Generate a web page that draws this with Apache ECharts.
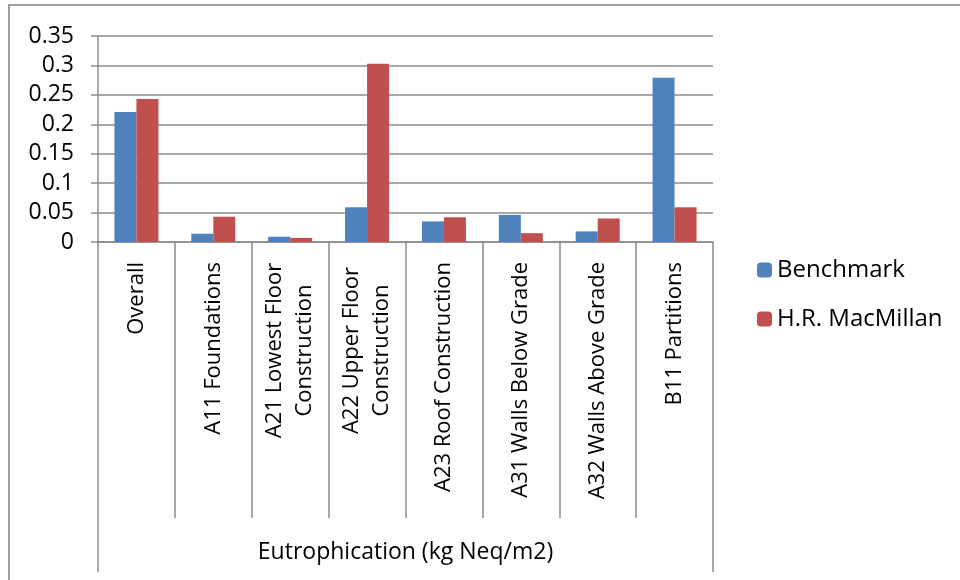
<!DOCTYPE html>
<html>
<head>
<meta charset="utf-8">
<script src="https://cdn.jsdelivr.net/npm/echarts@6/dist/echarts.min.js"></script>
<style>
  html, body { margin: 0; padding: 0; background: #fff; }
  #chart { width: 960px; height: 580px; }
</style>
</head>
<body>
<div id="chart"></div>
<script>
const categories = [
  'Overall',
  'A11 Foundations',
  'A21 Lowest Floor\nConstruction',
  'A22 Upper Floor\nConstruction',
  'A23 Roof Construction',
  'A31 Walls Below Grade',
  'A32 Walls Above Grade',
  'B11 Partitions'
]
const benchmark = [0.221, 0.014, 0.009, 0.059, 0.035, 0.046, 0.018, 0.279]
const macmillan = [0.243, 0.043, 0.007, 0.303, 0.042, 0.015, 0.040, 0.059]
const groupLabel = ['Eutrophication (kg Neq/m2)']

const FONT = '"Open Sans", "Liberation Sans", sans-serif'
const GREY = '#8c8c8c'
const BLUE = '#4f81bd'
const RED = '#c0504d'
const INK = '#000'
const CAT_SIZE = 22

// two-line labels: every line gets the width of the longest one, centred
const ctx = document.createElement('canvas').getContext('2d')
ctx.font = CAT_SIZE + 'px "Open Sans"'
const multiW = Math.ceil(Math.max(...categories.filter(c => c.includes('\n'))
  .flatMap(c => c.split('\n')).map(l => ctx.measureText(l).width))) + 1

const chart = echarts.init(document.getElementById('chart'), null, { renderer: 'canvas' })

chart.setOption({
  animation: false,
  textStyle: { fontFamily: FONT, color: INK },
  graphic: [{
    type: 'rect', silent: true, z: -1,
    shape: { x: 9, y: 5, width: 1000, height: 1000 },
    style: { fill: 'none', stroke: '#a0a0a0', lineWidth: 2 }
  }],
  grid: { left: 98, right: 247, top: 36, bottom: 338 },
  legend: {
    orient: 'vertical', left: 752, top: 253,
    itemWidth: 15, itemHeight: 15, itemGap: 25,
    textStyle: { fontSize: 24, color: INK, fontFamily: FONT },
    data: ['Benchmark', 'H.R. MacMillan']
  },
  xAxis: [{
    type: 'category', data: categories, position: 'bottom',
    axisLine: { lineStyle: { color: GREY, width: 1.5 } },
    axisTick: { show: true, interval: 0, length: 276, lineStyle: { color: GREY, width: 1.5 } },
    axisLabel: {
      interval: 0, rotate: 90, margin: 20, fontSize: CAT_SIZE, color: INK, fontFamily: FONT,
      formatter: v => {
        const lines = v.split('\n')
        return lines.length === 1 ? v : lines.map(l => '{c|' + l + '}').join('\n')
      },
      rich: { c: { fontSize: CAT_SIZE, fontFamily: FONT, color: INK, align: 'center', width: multiW, lineHeight: 30 } }
    }
  }, {
    type: 'category', data: groupLabel, position: 'bottom',
    axisLine: { show: false },
    axisTick: { show: true, interval: 0, length: 330, lineStyle: { color: GREY, width: 1.5 } },
    axisLabel: { margin: 299, fontSize: 23, color: INK, fontFamily: FONT }
  }],
  yAxis: {
    type: 'value', min: 0, max: 0.35, interval: 0.05,
    axisLine: { show: true, lineStyle: { color: GREY, width: 1.5 } },
    axisTick: { show: true, length: 7, lineStyle: { color: GREY, width: 1.5 } },
    splitLine: { lineStyle: { color: GREY, width: 1.5 } },
    axisLabel: { fontSize: 23, margin: 24, color: INK, fontFamily: FONT }
  },
  series: [{
    name: 'Benchmark', type: 'bar', xAxisIndex: 0, data: benchmark,
    itemStyle: { color: BLUE }, barWidth: 22, barGap: '0%'
  }, {
    name: 'H.R. MacMillan', type: 'bar', xAxisIndex: 0, data: macmillan,
    itemStyle: { color: RED }, barWidth: 22, barGap: '0%'
  }]
})
</script>
</body>
</html>
